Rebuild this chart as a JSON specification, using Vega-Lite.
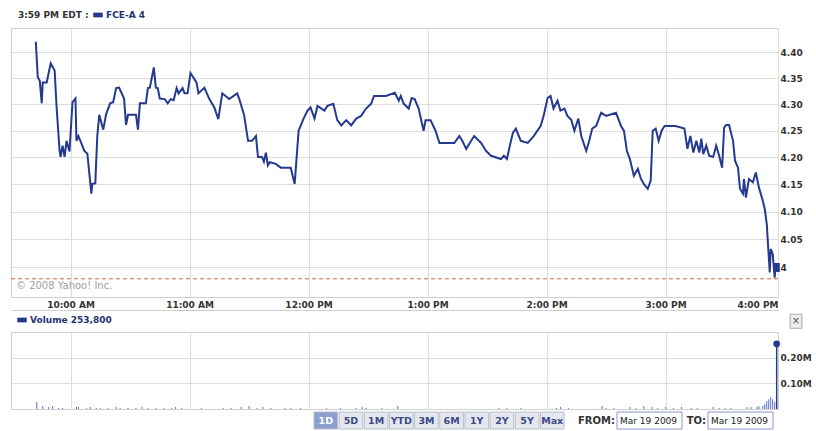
{
  "$schema": "https://vega.github.io/schema/vega-lite/v6.json",
  "padding": {"left": 10, "top": 9, "right": 0, "bottom": 0},
  "background": "white",
  "spacing": 0,
  "config": {
    "view": {"stroke": "#cfcfcf"},
    "font": "DejaVu Sans",
    "axis": {"labelFont": "DejaVu Sans", "labelFontWeight": "bold", "labelFontSize": 9, "labelColor": "#333333", "gridColor": "#dddddd", "ticks": false, "domain": false, "title": null},
    "legend": {"orient": "none", "direction": "horizontal", "labelFont": "DejaVu Sans", "labelFontSize": 9, "labelFontWeight": "bold", "labelColor": "#23336e", "labelOffset": 3, "symbolType": "M-1,-0.5H1V0.5H-1Z", "symbolSize": 90, "symbolStrokeWidth": 0, "titleFont": "DejaVu Sans", "titleFontSize": 9, "titleFontWeight": "bold", "titleColor": "#333333"}
  },
  "resolve": {"scale": {"color": "independent"}, "legend": {"color": "independent"}},
  "datasets": {
    "price": [
      {"t": "2009-03-19T09:42:30", "p": 4.421}, {"t": "2009-03-19T09:43:30", "p": 4.352}, {"t": "2009-03-19T09:44:30", "p": 4.345}, {"t": "2009-03-19T09:45:30", "p": 4.302},
      {"t": "2009-03-19T09:46:00", "p": 4.342}, {"t": "2009-03-19T09:48:00", "p": 4.342}, {"t": "2009-03-19T09:50:00", "p": 4.379}, {"t": "2009-03-19T09:52:00", "p": 4.365},
      {"t": "2009-03-19T09:53:00", "p": 4.294}, {"t": "2009-03-19T09:54:30", "p": 4.212}, {"t": "2009-03-19T09:55:00", "p": 4.201}, {"t": "2009-03-19T09:56:00", "p": 4.222},
      {"t": "2009-03-19T09:57:00", "p": 4.201}, {"t": "2009-03-19T09:58:00", "p": 4.231}, {"t": "2009-03-19T09:59:30", "p": 4.211}, {"t": "2009-03-19T10:01:00", "p": 4.304},
      {"t": "2009-03-19T10:02:30", "p": 4.311}, {"t": "2009-03-19T10:03:00", "p": 4.231}, {"t": "2009-03-19T10:04:00", "p": 4.240}, {"t": "2009-03-19T10:07:00", "p": 4.212},
      {"t": "2009-03-19T10:08:30", "p": 4.207}, {"t": "2009-03-19T10:10:30", "p": 4.133}, {"t": "2009-03-19T10:11:00", "p": 4.151}, {"t": "2009-03-19T10:12:30", "p": 4.152},
      {"t": "2009-03-19T10:13:30", "p": 4.240}, {"t": "2009-03-19T10:14:30", "p": 4.280}, {"t": "2009-03-19T10:16:30", "p": 4.252}, {"t": "2009-03-19T10:18:00", "p": 4.282},
      {"t": "2009-03-19T10:20:00", "p": 4.302}, {"t": "2009-03-19T10:21:30", "p": 4.304}, {"t": "2009-03-19T10:23:00", "p": 4.331}, {"t": "2009-03-19T10:24:30", "p": 4.332},
      {"t": "2009-03-19T10:27:00", "p": 4.311}, {"t": "2009-03-19T10:28:00", "p": 4.261}, {"t": "2009-03-19T10:29:00", "p": 4.280}, {"t": "2009-03-19T10:33:00", "p": 4.280},
      {"t": "2009-03-19T10:34:00", "p": 4.252}, {"t": "2009-03-19T10:35:00", "p": 4.302}, {"t": "2009-03-19T10:38:00", "p": 4.302}, {"t": "2009-03-19T10:39:00", "p": 4.331},
      {"t": "2009-03-19T10:40:00", "p": 4.332}, {"t": "2009-03-19T10:42:00", "p": 4.371}, {"t": "2009-03-19T10:43:00", "p": 4.332}, {"t": "2009-03-19T10:44:00", "p": 4.331},
      {"t": "2009-03-19T10:45:00", "p": 4.311}, {"t": "2009-03-19T10:47:30", "p": 4.310}, {"t": "2009-03-19T10:49:00", "p": 4.302}, {"t": "2009-03-19T10:50:30", "p": 4.310},
      {"t": "2009-03-19T10:52:00", "p": 4.308}, {"t": "2009-03-19T10:53:30", "p": 4.331}, {"t": "2009-03-19T10:54:30", "p": 4.321}, {"t": "2009-03-19T10:56:30", "p": 4.331},
      {"t": "2009-03-19T10:57:30", "p": 4.321}, {"t": "2009-03-19T10:59:00", "p": 4.321}, {"t": "2009-03-19T11:00:30", "p": 4.360}, {"t": "2009-03-19T11:03:30", "p": 4.342},
      {"t": "2009-03-19T11:04:30", "p": 4.321}, {"t": "2009-03-19T11:07:30", "p": 4.332}, {"t": "2009-03-19T11:10:00", "p": 4.310}, {"t": "2009-03-19T11:12:30", "p": 4.294},
      {"t": "2009-03-19T11:14:30", "p": 4.272}, {"t": "2009-03-19T11:16:30", "p": 4.321}, {"t": "2009-03-19T11:20:00", "p": 4.310}, {"t": "2009-03-19T11:24:00", "p": 4.321},
      {"t": "2009-03-19T11:25:00", "p": 4.311}, {"t": "2009-03-19T11:27:30", "p": 4.280}, {"t": "2009-03-19T11:29:30", "p": 4.231}, {"t": "2009-03-19T11:31:30", "p": 4.231},
      {"t": "2009-03-19T11:33:30", "p": 4.240}, {"t": "2009-03-19T11:34:30", "p": 4.201}, {"t": "2009-03-19T11:36:30", "p": 4.201}, {"t": "2009-03-19T11:37:30", "p": 4.192},
      {"t": "2009-03-19T11:38:30", "p": 4.209}, {"t": "2009-03-19T11:39:30", "p": 4.185}, {"t": "2009-03-19T11:40:30", "p": 4.191}, {"t": "2009-03-19T11:43:30", "p": 4.188},
      {"t": "2009-03-19T11:46:00", "p": 4.181}, {"t": "2009-03-19T11:51:00", "p": 4.181}, {"t": "2009-03-19T11:53:00", "p": 4.151}, {"t": "2009-03-19T11:55:00", "p": 4.250},
      {"t": "2009-03-19T11:57:30", "p": 4.273}, {"t": "2009-03-19T11:59:30", "p": 4.288}, {"t": "2009-03-19T12:01:00", "p": 4.294}, {"t": "2009-03-19T12:03:00", "p": 4.273},
      {"t": "2009-03-19T12:04:30", "p": 4.297}, {"t": "2009-03-19T12:08:00", "p": 4.288}, {"t": "2009-03-19T12:09:30", "p": 4.297}, {"t": "2009-03-19T12:12:30", "p": 4.301},
      {"t": "2009-03-19T12:14:30", "p": 4.270}, {"t": "2009-03-19T12:16:30", "p": 4.260}, {"t": "2009-03-19T12:19:00", "p": 4.270}, {"t": "2009-03-19T12:21:30", "p": 4.260},
      {"t": "2009-03-19T12:24:00", "p": 4.273}, {"t": "2009-03-19T12:26:30", "p": 4.278}, {"t": "2009-03-19T12:29:00", "p": 4.292}, {"t": "2009-03-19T12:31:30", "p": 4.301},
      {"t": "2009-03-19T12:33:00", "p": 4.316}, {"t": "2009-03-19T12:39:00", "p": 4.316}, {"t": "2009-03-19T12:43:30", "p": 4.322}, {"t": "2009-03-19T12:45:30", "p": 4.307},
      {"t": "2009-03-19T12:46:30", "p": 4.316}, {"t": "2009-03-19T12:48:00", "p": 4.301}, {"t": "2009-03-19T12:50:30", "p": 4.292}, {"t": "2009-03-19T12:52:00", "p": 4.312},
      {"t": "2009-03-19T12:53:30", "p": 4.310}, {"t": "2009-03-19T12:55:30", "p": 4.292}, {"t": "2009-03-19T12:58:00", "p": 4.250}, {"t": "2009-03-19T12:59:00", "p": 4.270},
      {"t": "2009-03-19T13:01:30", "p": 4.270}, {"t": "2009-03-19T13:04:00", "p": 4.250}, {"t": "2009-03-19T13:06:00", "p": 4.227}, {"t": "2009-03-19T13:13:30", "p": 4.227},
      {"t": "2009-03-19T13:16:00", "p": 4.240}, {"t": "2009-03-19T13:17:30", "p": 4.231}, {"t": "2009-03-19T13:19:30", "p": 4.216}, {"t": "2009-03-19T13:22:00", "p": 4.231},
      {"t": "2009-03-19T13:23:30", "p": 4.240}, {"t": "2009-03-19T13:27:00", "p": 4.227}, {"t": "2009-03-19T13:29:30", "p": 4.212}, {"t": "2009-03-19T13:32:00", "p": 4.203},
      {"t": "2009-03-19T13:37:00", "p": 4.197}, {"t": "2009-03-19T13:38:30", "p": 4.203}, {"t": "2009-03-19T13:40:00", "p": 4.197}, {"t": "2009-03-19T13:41:30", "p": 4.222},
      {"t": "2009-03-19T13:43:00", "p": 4.246}, {"t": "2009-03-19T13:44:30", "p": 4.254}, {"t": "2009-03-19T13:47:00", "p": 4.231}, {"t": "2009-03-19T13:50:30", "p": 4.227},
      {"t": "2009-03-19T13:53:30", "p": 4.240}, {"t": "2009-03-19T13:57:00", "p": 4.259}, {"t": "2009-03-19T13:58:30", "p": 4.278}, {"t": "2009-03-19T14:00:30", "p": 4.312},
      {"t": "2009-03-19T14:02:00", "p": 4.316}, {"t": "2009-03-19T14:03:30", "p": 4.292}, {"t": "2009-03-19T14:05:30", "p": 4.307}, {"t": "2009-03-19T14:07:00", "p": 4.288},
      {"t": "2009-03-19T14:09:00", "p": 4.292}, {"t": "2009-03-19T14:10:30", "p": 4.278}, {"t": "2009-03-19T14:12:30", "p": 4.270}, {"t": "2009-03-19T14:14:00", "p": 4.250},
      {"t": "2009-03-19T14:16:00", "p": 4.273}, {"t": "2009-03-19T14:17:30", "p": 4.240}, {"t": "2009-03-19T14:20:00", "p": 4.212}, {"t": "2009-03-19T14:21:30", "p": 4.231},
      {"t": "2009-03-19T14:23:00", "p": 4.254}, {"t": "2009-03-19T14:25:00", "p": 4.259}, {"t": "2009-03-19T14:27:30", "p": 4.284}, {"t": "2009-03-19T14:30:00", "p": 4.278},
      {"t": "2009-03-19T14:35:00", "p": 4.284}, {"t": "2009-03-19T14:37:30", "p": 4.259}, {"t": "2009-03-19T14:39:00", "p": 4.250}, {"t": "2009-03-19T14:40:30", "p": 4.212},
      {"t": "2009-03-19T14:42:00", "p": 4.197}, {"t": "2009-03-19T14:44:00", "p": 4.166}, {"t": "2009-03-19T14:46:00", "p": 4.179}, {"t": "2009-03-19T14:47:30", "p": 4.161},
      {"t": "2009-03-19T14:49:00", "p": 4.151}, {"t": "2009-03-19T14:51:00", "p": 4.142}, {"t": "2009-03-19T14:52:30", "p": 4.157}, {"t": "2009-03-19T14:53:30", "p": 4.250},
      {"t": "2009-03-19T14:55:00", "p": 4.254}, {"t": "2009-03-19T14:56:30", "p": 4.231}, {"t": "2009-03-19T14:58:00", "p": 4.250}, {"t": "2009-03-19T14:59:30", "p": 4.259},
      {"t": "2009-03-19T15:05:00", "p": 4.259}, {"t": "2009-03-19T15:09:30", "p": 4.254}, {"t": "2009-03-19T15:11:00", "p": 4.216}, {"t": "2009-03-19T15:12:30", "p": 4.240},
      {"t": "2009-03-19T15:14:00", "p": 4.209}, {"t": "2009-03-19T15:15:30", "p": 4.231}, {"t": "2009-03-19T15:17:00", "p": 4.209}, {"t": "2009-03-19T15:18:00", "p": 4.235},
      {"t": "2009-03-19T15:19:00", "p": 4.206}, {"t": "2009-03-19T15:20:30", "p": 4.222}, {"t": "2009-03-19T15:22:00", "p": 4.203}, {"t": "2009-03-19T15:24:00", "p": 4.201},
      {"t": "2009-03-19T15:25:30", "p": 4.222}, {"t": "2009-03-19T15:27:00", "p": 4.203}, {"t": "2009-03-19T15:28:30", "p": 4.181}, {"t": "2009-03-19T15:29:30", "p": 4.256},
      {"t": "2009-03-19T15:30:30", "p": 4.261}, {"t": "2009-03-19T15:32:00", "p": 4.261}, {"t": "2009-03-19T15:34:00", "p": 4.231}, {"t": "2009-03-19T15:35:00", "p": 4.194},
      {"t": "2009-03-19T15:36:30", "p": 4.181}, {"t": "2009-03-19T15:37:30", "p": 4.142}, {"t": "2009-03-19T15:39:00", "p": 4.133}, {"t": "2009-03-19T15:39:30", "p": 4.160},
      {"t": "2009-03-19T15:40:30", "p": 4.126}, {"t": "2009-03-19T15:42:00", "p": 4.160}, {"t": "2009-03-19T15:44:00", "p": 4.154}, {"t": "2009-03-19T15:45:30", "p": 4.172},
      {"t": "2009-03-19T15:47:00", "p": 4.145}, {"t": "2009-03-19T15:49:00", "p": 4.120}, {"t": "2009-03-19T15:50:00", "p": 4.105}, {"t": "2009-03-19T15:51:00", "p": 4.078},
      {"t": "2009-03-19T15:52:30", "p": 3.991}, {"t": "2009-03-19T15:53:00", "p": 4.033}, {"t": "2009-03-19T15:54:00", "p": 4.024}, {"t": "2009-03-19T15:55:00", "p": 3.982},
      {"t": "2009-03-19T15:55:30", "p": 4.006}, {"t": "2009-03-19T15:56:00", "p": 4.000}
    ],
    "vol": [
      {"t": "2009-03-19T09:43:00", "v": 27000}, {"t": "2009-03-19T09:46:00", "v": 11500}, {"t": "2009-03-19T09:49:00", "v": 7700}, {"t": "2009-03-19T09:51:00", "v": 11500},
      {"t": "2009-03-19T09:54:00", "v": 3800}, {"t": "2009-03-19T09:56:00", "v": 3800}, {"t": "2009-03-19T10:03:00", "v": 7700}, {"t": "2009-03-19T10:04:00", "v": 7700},
      {"t": "2009-03-19T10:08:00", "v": 3800}, {"t": "2009-03-19T10:10:00", "v": 7700}, {"t": "2009-03-19T10:13:00", "v": 3800}, {"t": "2009-03-19T10:15:00", "v": 3800},
      {"t": "2009-03-19T10:19:00", "v": 3800}, {"t": "2009-03-19T10:23:00", "v": 7700}, {"t": "2009-03-19T10:25:00", "v": 3800}, {"t": "2009-03-19T10:29:00", "v": 3800},
      {"t": "2009-03-19T10:33:00", "v": 3800}, {"t": "2009-03-19T10:36:00", "v": 7700}, {"t": "2009-03-19T10:39:00", "v": 3800}, {"t": "2009-03-19T10:43:00", "v": 3800},
      {"t": "2009-03-19T10:47:00", "v": 3800}, {"t": "2009-03-19T10:51:00", "v": 3800}, {"t": "2009-03-19T10:53:00", "v": 7700}, {"t": "2009-03-19T10:56:00", "v": 3800},
      {"t": "2009-03-19T11:06:00", "v": 3800}, {"t": "2009-03-19T11:17:00", "v": 3800}, {"t": "2009-03-19T11:21:00", "v": 3800}, {"t": "2009-03-19T11:26:00", "v": 7700},
      {"t": "2009-03-19T11:30:00", "v": 11500}, {"t": "2009-03-19T11:34:00", "v": 3800}, {"t": "2009-03-19T11:37:00", "v": 7700}, {"t": "2009-03-19T11:41:00", "v": 3800},
      {"t": "2009-03-19T11:48:00", "v": 3800}, {"t": "2009-03-19T11:51:00", "v": 3800}, {"t": "2009-03-19T11:56:00", "v": 3800}, {"t": "2009-03-19T12:09:00", "v": 3800},
      {"t": "2009-03-19T12:16:00", "v": 3800}, {"t": "2009-03-19T12:24:00", "v": 3800}, {"t": "2009-03-19T12:27:00", "v": 7700}, {"t": "2009-03-19T12:29:00", "v": 3800},
      {"t": "2009-03-19T12:37:00", "v": 3800}, {"t": "2009-03-19T12:45:00", "v": 11500}, {"t": "2009-03-19T13:36:00", "v": 3800}, {"t": "2009-03-19T13:40:00", "v": 3800},
      {"t": "2009-03-19T13:47:00", "v": 3800}, {"t": "2009-03-19T14:05:00", "v": 3800}, {"t": "2009-03-19T14:07:00", "v": 7700}, {"t": "2009-03-19T14:11:00", "v": 3800},
      {"t": "2009-03-19T14:28:00", "v": 11500}, {"t": "2009-03-19T14:30:00", "v": 3800}, {"t": "2009-03-19T14:34:00", "v": 3800}, {"t": "2009-03-19T14:42:00", "v": 7700},
      {"t": "2009-03-19T14:45:00", "v": 3800}, {"t": "2009-03-19T14:49:00", "v": 11500}, {"t": "2009-03-19T14:53:00", "v": 7700}, {"t": "2009-03-19T14:56:00", "v": 3800},
      {"t": "2009-03-19T15:00:00", "v": 7700}, {"t": "2009-03-19T15:04:00", "v": 3800}, {"t": "2009-03-19T15:08:00", "v": 7700}, {"t": "2009-03-19T15:13:00", "v": 3800},
      {"t": "2009-03-19T15:16:00", "v": 3800}, {"t": "2009-03-19T15:24:00", "v": 7700}, {"t": "2009-03-19T15:27:00", "v": 3800}, {"t": "2009-03-19T15:30:00", "v": 3800},
      {"t": "2009-03-19T15:33:00", "v": 3800}, {"t": "2009-03-19T15:41:00", "v": 7700}, {"t": "2009-03-19T15:43:00", "v": 7700}, {"t": "2009-03-19T15:46:00", "v": 7700},
      {"t": "2009-03-19T15:47:00", "v": 11500}, {"t": "2009-03-19T15:49:00", "v": 11500}, {"t": "2009-03-19T15:50:00", "v": 19000}, {"t": "2009-03-19T15:51:00", "v": 31000},
      {"t": "2009-03-19T15:52:00", "v": 38000}, {"t": "2009-03-19T15:53:00", "v": 46000}, {"t": "2009-03-19T15:54:00", "v": 38000}, {"t": "2009-03-19T15:55:00", "v": 27000}
    ]
  },
  "vconcat": [
    {
      "width": 767,
      "height": 269,
      "layer": [
        {
          "data": {"name": "price"},
          "mark": {"type": "line", "color": "#24398f", "strokeWidth": 2},
          "encoding": {
            "x": {
              "field": "t", "type": "temporal",
              "scale": {"domain": [{"year": 2009, "month": 3, "date": 19, "hours": 9, "minutes": 30}, {"year": 2009, "month": 3, "date": 19, "hours": 15, "minutes": 56, "seconds": 40}]},
              "axis": {
                "values": [
                  {"year": 2009, "month": 3, "date": 19, "hours": 10}, {"year": 2009, "month": 3, "date": 19, "hours": 11}, {"year": 2009, "month": 3, "date": 19, "hours": 12},
                  {"year": 2009, "month": 3, "date": 19, "hours": 13}, {"year": 2009, "month": 3, "date": 19, "hours": 14}, {"year": 2009, "month": 3, "date": 19, "hours": 15},
                  {"year": 2009, "month": 3, "date": 19, "hours": 15, "minutes": 56, "seconds": 40}
                ],
                "labelExpr": "minutes(datum.value) > 30 ? '4:00 PM' : timeFormat(datum.value, '%-I:%M %p')",
                "labelFlush": true,
                "grid": true,
                "offset": 13,
                "domain": true,
                "domainColor": "#cfcfcf",
                "labelPadding": -6,
                "labelBaseline": "middle"
              }
            },
            "y": {
              "field": "p", "type": "quantitative",
              "scale": {"type": "log", "domain": [3.948, 4.448], "nice": false, "zero": false},
              "axis": {"orient": "right", "values": [4, 4.05, 4.1, 4.15, 4.2, 4.25, 4.3, 4.35, 4.4], "grid": true, "labelPadding": 2, "labelExpr": "datum.value == 4 ? '4' : format(datum.value, '.2f')"}
            }
          }
        },
        {
          "data": {"values": [{"p": 3.98}]},
          "mark": {"type": "rule", "color": "#c8693a", "strokeDash": [4, 3], "strokeWidth": 1},
          "encoding": {"y": {"field": "p", "type": "quantitative"}}
        },
        {
          "data": {"values": [{"t": "2009-03-19T09:32:30", "p": 3.968, "txt": "© 2008 Yahoo! Inc."}]},
          "mark": {"type": "text", "align": "left", "baseline": "middle", "color": "#a0a0a0", "fontSize": 10, "font": "DejaVu Sans"},
          "encoding": {"x": {"field": "t", "type": "temporal"}, "y": {"field": "p", "type": "quantitative"}, "text": {"field": "txt"}}
        },
        {
          "data": {"values": [{"t": "2009-03-19T15:56:00", "p": 4.0}]},
          "mark": {"type": "point", "shape": "M-0.7,-1H0.7V1H-0.7Z", "filled": true, "size": 80, "opacity": 1},
          "encoding": {
            "x": {"field": "t", "type": "temporal"},
            "y": {"field": "p", "type": "quantitative"},
            "color": {"datum": "FCE-A  4", "scale": {"range": ["#24398f"]}, "legend": {"title": "3:59 PM EDT :", "titleOrient": "left", "titlePadding": 4, "legendX": 7, "legendY": -18}}
          }
        }
      ]
    },
    {
      "width": 767,
      "height": 77,
      "layer": [
        {
          "data": {"name": "vol"},
          "mark": {"type": "rule", "color": "#5b6fc4", "strokeWidth": 1},
          "encoding": {
            "x": {
              "field": "t", "type": "temporal",
              "scale": {"domain": [{"year": 2009, "month": 3, "date": 19, "hours": 9, "minutes": 30}, {"year": 2009, "month": 3, "date": 19, "hours": 15, "minutes": 56, "seconds": 40}]},
              "axis": {
                "values": [
                  {"year": 2009, "month": 3, "date": 19, "hours": 10}, {"year": 2009, "month": 3, "date": 19, "hours": 11}, {"year": 2009, "month": 3, "date": 19, "hours": 12},
                  {"year": 2009, "month": 3, "date": 19, "hours": 13}, {"year": 2009, "month": 3, "date": 19, "hours": 14}, {"year": 2009, "month": 3, "date": 19, "hours": 15}
                ],
                "grid": true, "labels": false, "domain": false
              }
            },
            "y": {
              "field": "v", "type": "quantitative",
              "scale": {"domain": [0, 300000], "nice": false},
              "axis": {"orient": "right", "values": [100000, 200000], "grid": true, "labelPadding": 2, "labelExpr": "format(datum.value / 1000000, '.2f') + 'M'"}
            },
            "y2": {"datum": 0}
          }
        },
        {
          "data": {"values": [{"t": "2009-03-19T15:56:00", "v": 253800}]},
          "mark": {"type": "rule", "color": "#24398f", "strokeWidth": 1.5},
          "encoding": {"x": {"field": "t", "type": "temporal"}, "y": {"field": "v", "type": "quantitative"}, "y2": {"datum": 0}}
        },
        {
          "data": {"values": [{"t": "2009-03-19T15:56:00", "v": 253800}]},
          "mark": {"type": "point", "shape": "circle", "filled": true, "size": 45, "opacity": 1},
          "encoding": {
            "x": {"field": "t", "type": "temporal"},
            "y": {"field": "v", "type": "quantitative"},
            "color": {"datum": "Volume  253,800", "scale": {"range": ["#24398f"]}, "legend": {"title": null, "legendX": 6, "legendY": -17}}
          }
        },
        {
          "data": {"values": [{"t": "2009-03-19T16:05:45", "v": 342000, "txt": "×"}]},
          "layer": [
            {
              "mark": {"type": "point", "shape": "M-0.85,-1H0.85V1H-0.85Z", "filled": true, "size": 196, "opacity": 1, "fill": "#eeeeee", "stroke": "#a8a8a8", "strokeWidth": 1},
              "encoding": {"x": {"field": "t", "type": "temporal"}, "y": {"field": "v", "type": "quantitative"}}
            },
            {
              "mark": {"type": "text", "fontSize": 10, "color": "#555555", "baseline": "middle", "font": "DejaVu Sans"},
              "encoding": {"x": {"field": "t", "type": "temporal"}, "y": {"field": "v", "type": "quantitative"}, "text": {"field": "txt"}}
            }
          ]
        }
      ]
    },
    {
      "width": 767,
      "height": 17,
      "view": {"stroke": null},
      "resolve": {"scale": {"x": "independent"}},
      "layer": [
        {
          "data": {"values": [{"b": "1D"}, {"b": "5D"}, {"b": "1M"}, {"b": "YTD"}, {"b": "3M"}, {"b": "6M"}, {"b": "1Y"}, {"b": "2Y"}, {"b": "5Y"}, {"b": "Max"}]},
          "layer": [
            {
              "mark": {"type": "rect", "stroke": "#b9bdcc", "strokeWidth": 1},
              "encoding": {
                "x": {"field": "b", "type": "nominal", "sort": null, "scale": {"type": "band", "domain": ["1D", "5D", "1M", "YTD", "3M", "6M", "1Y", "2Y", "5Y", "Max"], "range": [303, 553], "paddingInner": 0.06, "paddingOuter": 0}, "axis": null},
                "fill": {"condition": {"test": "datum.b == '1D'", "value": "#8d9ecf"}, "value": "#e5e7ef"}
              }
            },
            {
              "mark": {"type": "text", "fontWeight": "bold", "fontSize": 9.5, "baseline": "middle", "font": "DejaVu Sans"},
              "encoding": {
                "x": {"field": "b", "type": "nominal", "sort": null, "axis": null, "bandPosition": 0.5},
                "text": {"field": "b"},
                "color": {"condition": {"test": "datum.b == '1D'", "value": "#ffffff"}, "value": "#3b4a86"}
              }
            }
          ]
        },
        {
          "data": {"values": [{"k": "from", "lab": "FROM:", "d": "Mar 19 2009"}, {"k": "to", "lab": "TO:", "d": "Mar 19 2009"}]},
          "layer": [
            {
              "mark": {"type": "rect", "fill": "white", "stroke": "#8e98c4", "strokeWidth": 1},
              "encoding": {"x": {"field": "k", "type": "nominal", "sort": null, "scale": {"type": "band", "domain": ["from", "to"], "range": [606, 762], "paddingInner": 0.2857, "paddingOuter": 0}, "axis": null}}
            },
            {
              "mark": {"type": "text", "align": "right", "dx": -2, "fontWeight": "bold", "fontSize": 10, "color": "#333333", "baseline": "middle", "font": "DejaVu Sans"},
              "encoding": {"x": {"field": "k", "type": "nominal", "sort": null, "bandPosition": 0, "axis": null}, "text": {"field": "lab"}}
            },
            {
              "mark": {"type": "text", "align": "left", "dx": 3, "fontSize": 9, "color": "#222222", "baseline": "middle", "font": "DejaVu Sans"},
              "encoding": {"x": {"field": "k", "type": "nominal", "sort": null, "bandPosition": 0, "axis": null}, "text": {"field": "d"}}
            }
          ]
        }
      ]
    }
  ]
}
